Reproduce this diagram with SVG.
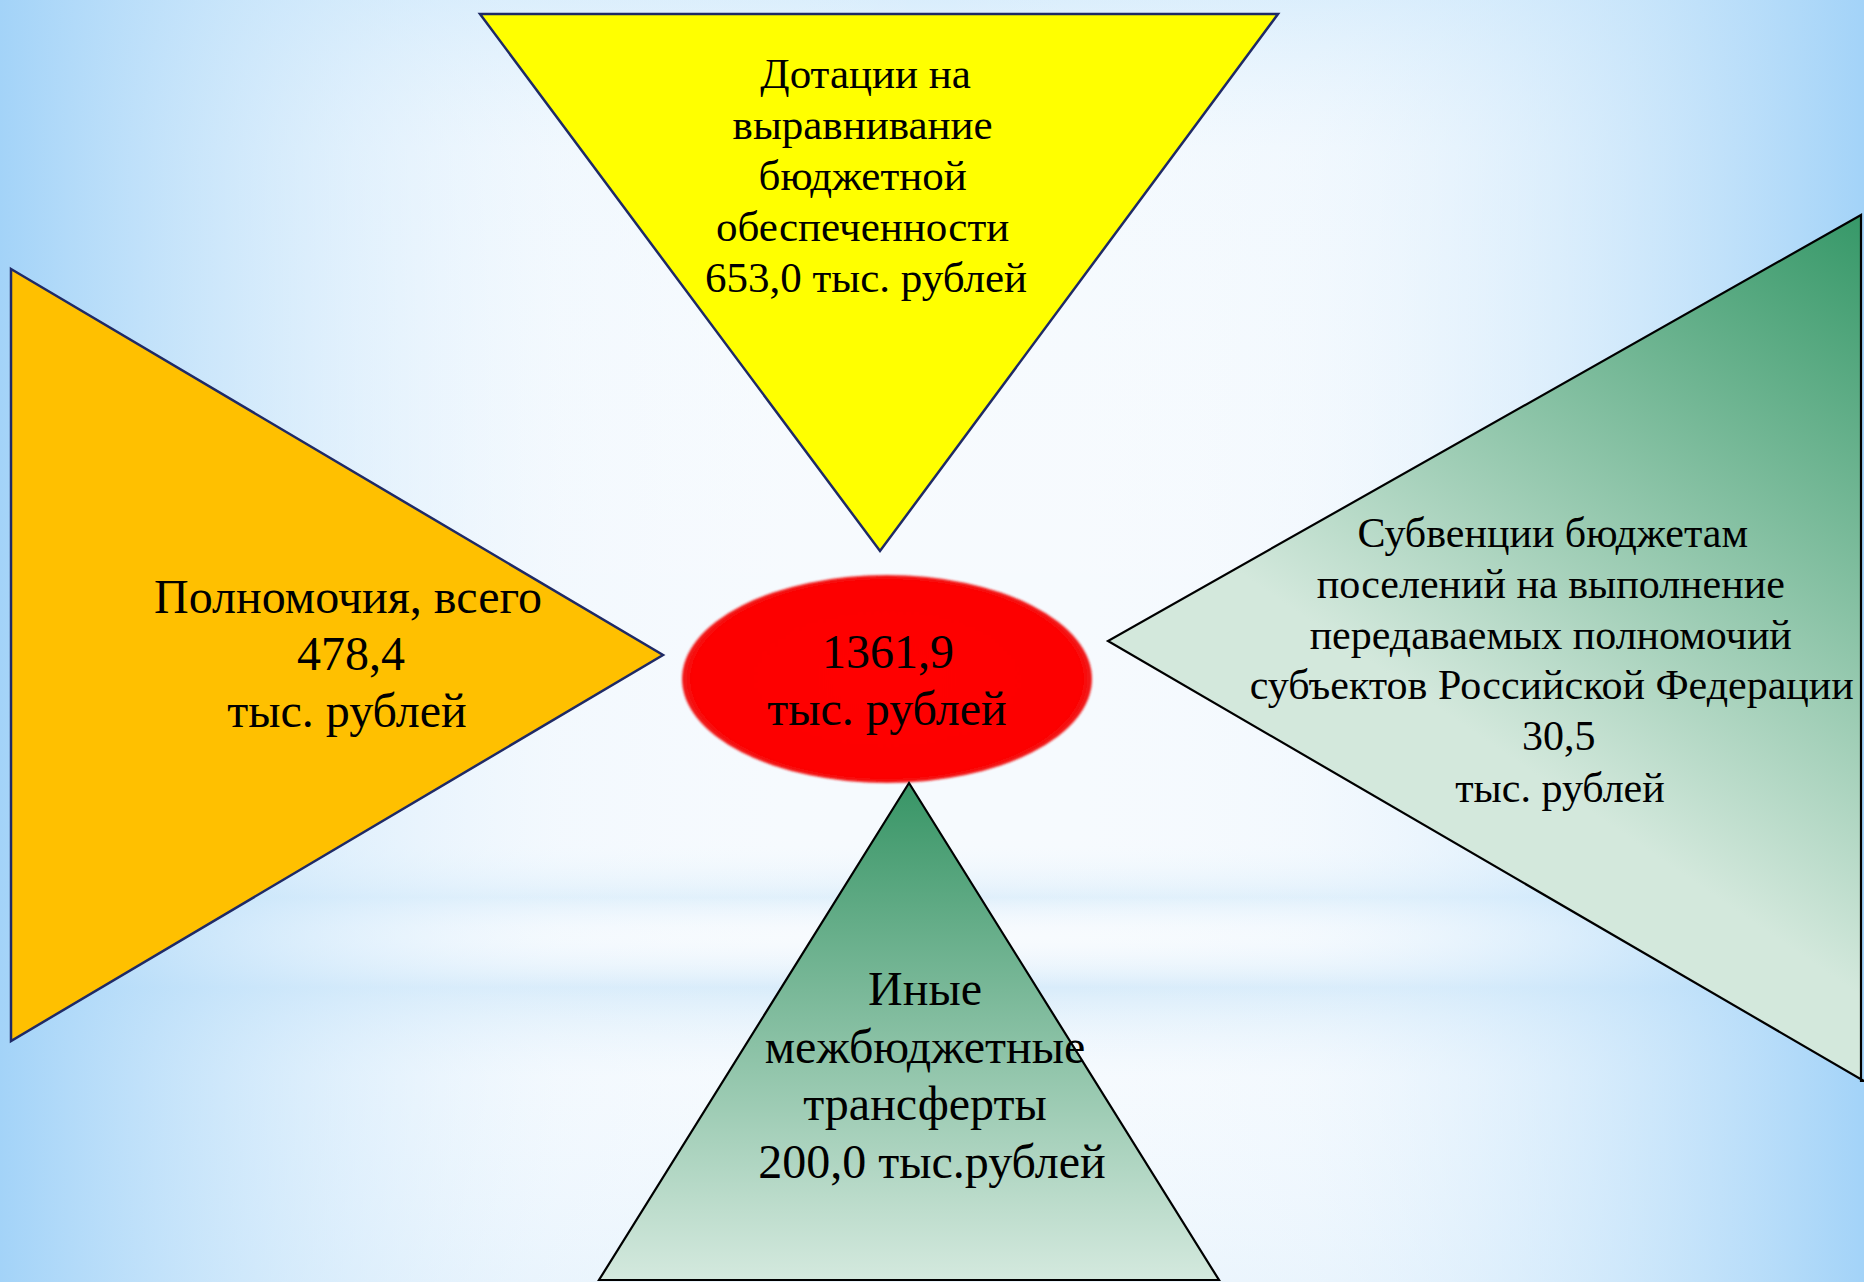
<svg xmlns="http://www.w3.org/2000/svg" width="1864" height="1282" viewBox="0 0 1864 1282">
  <defs>
    <linearGradient id="bgH" x1="0" y1="0" x2="1" y2="0">
      <stop offset="0" stop-color="#A3D3F8" stop-opacity="1"/>
      <stop offset="0.12" stop-color="#C2E2FA" stop-opacity="0.75"/>
      <stop offset="0.3" stop-color="#E6F3FD" stop-opacity="0.2"/>
      <stop offset="0.5" stop-color="#FFFFFF" stop-opacity="0"/>
      <stop offset="0.7" stop-color="#E6F3FD" stop-opacity="0.2"/>
      <stop offset="0.88" stop-color="#C2E2FA" stop-opacity="0.75"/>
      <stop offset="1" stop-color="#A3D3F8" stop-opacity="1"/>
    </linearGradient>
    <linearGradient id="bgV" x1="0" y1="0" x2="0" y2="1">
      <stop offset="0" stop-color="#D6ECFC" stop-opacity="0.9"/>
      <stop offset="0.12" stop-color="#F0F8FE" stop-opacity="0.4"/>
      <stop offset="0.5" stop-color="#FFFFFF" stop-opacity="0"/>
      <stop offset="0.65" stop-color="#FFFFFF" stop-opacity="0"/>
      <stop offset="0.7" stop-color="#CDE7F9" stop-opacity="0.55"/>
      <stop offset="0.73" stop-color="#FFFFFF" stop-opacity="0.15"/>
      <stop offset="0.77" stop-color="#C6E3F8" stop-opacity="0.65"/>
      <stop offset="0.84" stop-color="#F4FAFE" stop-opacity="0.2"/>
      <stop offset="1" stop-color="#E0F0FC" stop-opacity="0.5"/>
    </linearGradient>
    <linearGradient id="greenR" gradientUnits="userSpaceOnUse" x1="1864" y1="215" x2="1500" y2="750">
      <stop offset="0" stop-color="#369868"/>
      <stop offset="1" stop-color="#D3E8DC"/>
    </linearGradient>
    <linearGradient id="greenB" gradientUnits="userSpaceOnUse" x1="0" y1="783" x2="0" y2="1280">
      <stop offset="0" stop-color="#389566"/>
      <stop offset="1" stop-color="#D4E9DE"/>
    </linearGradient>
    <radialGradient id="redG" cx="0.5" cy="0.5" r="0.5">
      <stop offset="0" stop-color="#FF0000"/>
      <stop offset="0.95" stop-color="#FD0000"/>
      <stop offset="1" stop-color="#EE2020"/>
    </radialGradient>
    <filter id="soft" x="-5%" y="-5%" width="110%" height="110%">
      <feGaussianBlur stdDeviation="1.2"/>
    </filter>
  </defs>
  <style>
    .t { font-family: "Liberation Serif", "Times New Roman", serif; fill: #000000; text-anchor: middle; }
    .navy { stroke: #1F2A66; stroke-width: 2.5; stroke-linejoin: miter; }
    .blk { stroke: #000000; stroke-width: 2.2; stroke-linejoin: miter; }
  </style>

  <!-- background -->
  <rect x="0" y="0" width="1864" height="1282" fill="#F6FAFE"/>
  <rect x="0" y="0" width="1864" height="1282" fill="url(#bgV)"/>
  <rect x="0" y="0" width="1864" height="1282" fill="url(#bgH)"/>

  <g id="node-dotacii">
    <polygon class="navy" points="480,14 1278,14 880,551" fill="#FFFF00"/>
    <text class="t" font-size="43">
      <tspan x="871" y="88">Дотации на</tspan>
      <tspan x="868" y="139">выравнивание</tspan>
      <tspan x="868" y="190">бюджетной</tspan>
      <tspan x="868" y="241">обеспеченности</tspan>
      <tspan x="866" y="292">653,0 тыс. рублей</tspan>
    </text>
  </g>

  <g id="node-polnomochiya">
    <polygon class="navy" points="11,269 663,655 11,1041" fill="#FFC000"/>
    <text class="t" font-size="48">
      <tspan x="354" y="613">Полномочия, всего</tspan>
      <tspan x="357" y="670">478,4</tspan>
      <tspan x="347" y="727">тыс. рублей</tspan>
    </text>
  </g>

  <g id="node-subvencii">
    <polygon class="blk" points="1861,215 1108,641 1864,1081 1861,1081" fill="url(#greenR)"/>
    <text class="t" font-size="42">
      <tspan x="1558" y="547">Субвенции бюджетам</tspan>
      <tspan x="1556" y="598">поселений на выполнение</tspan>
      <tspan x="1556" y="649">передаваемых полномочий</tspan>
      <tspan x="1557" y="699">субъектов Российской Федерации</tspan>
      <tspan x="1564" y="750">30,5</tspan>
      <tspan x="1560" y="802">тыс. рублей</tspan>
    </text>
  </g>

  <g id="node-total">
    <ellipse cx="887" cy="679" rx="205" ry="104" fill="url(#redG)" filter="url(#soft)"/>
    <text class="t" font-size="48">
      <tspan x="894" y="668">1361,9</tspan>
      <tspan x="887" y="725">тыс. рублей</tspan>
    </text>
  </g>

  <g id="node-inye">
    <polygon class="blk" points="909,783 599,1280 1219,1280" fill="url(#greenB)"/>
    <text class="t" font-size="48">
      <tspan x="931" y="1005">Иные</tspan>
      <tspan x="931" y="1063">межбюджетные</tspan>
      <tspan x="931" y="1120">трансферты</tspan>
      <tspan x="932" y="1178">200,0 тыс.рублей</tspan>
    </text>
  </g>

  <g id="connectors"></g>
</svg>
